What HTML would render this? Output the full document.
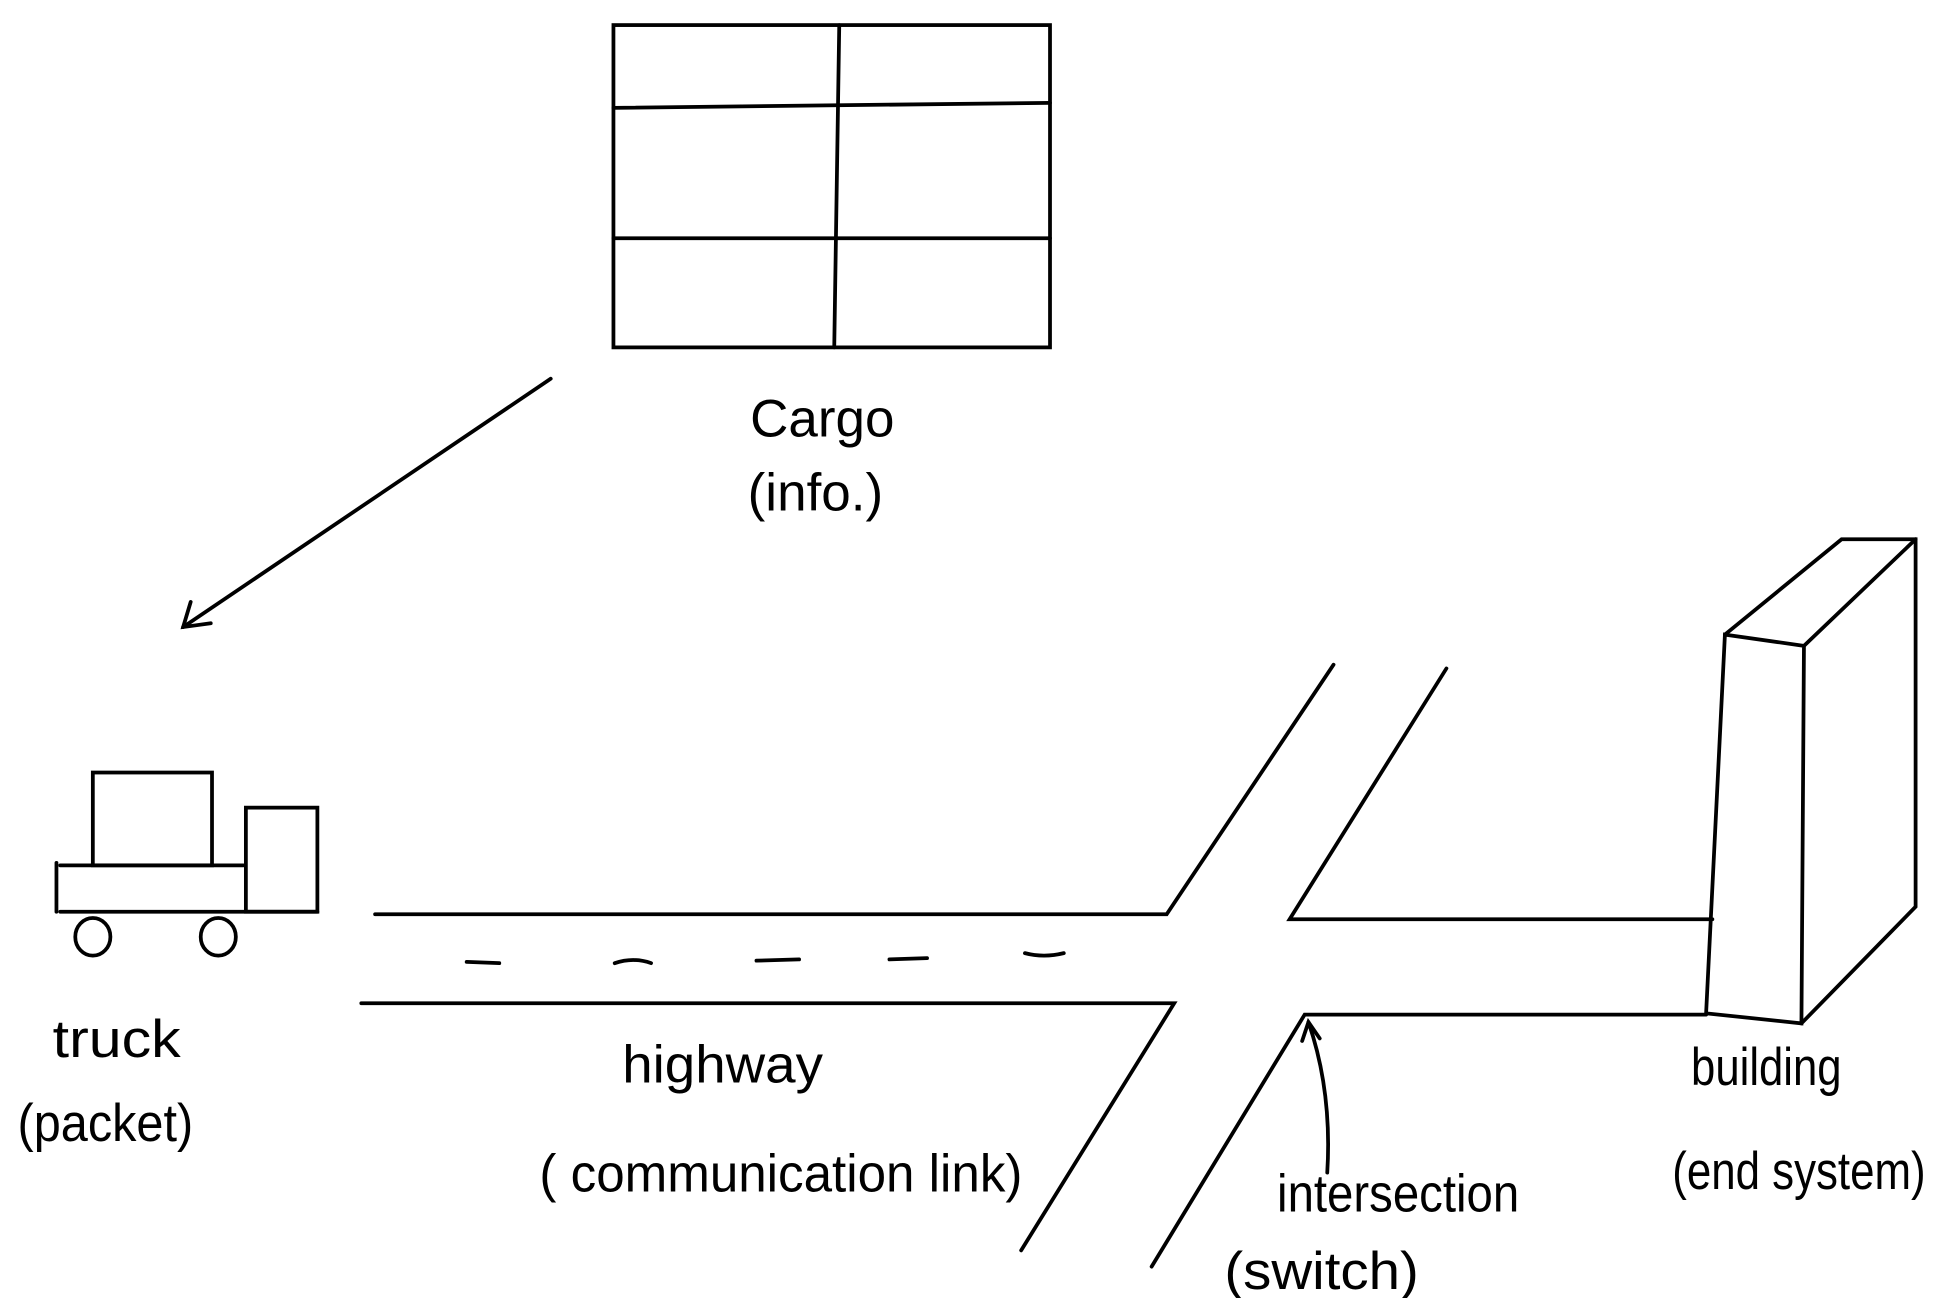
<!DOCTYPE html>
<html><head><meta charset="utf-8"><style>
html,body{margin:0;padding:0;background:#fff;}
svg{display:block;}
text{font-family:"Liberation Sans Narrow","Liberation Sans",sans-serif;fill:#000;}
</style></head><body>
<svg width="1957" height="1298" viewBox="0 0 1560 1035" preserveAspectRatio="none">
<g fill="none" stroke="#000" stroke-width="3" stroke-linecap="round">
 <g>
  <rect x="489" y="20" width="348" height="257"/>
  <line x1="669" y1="20" x2="665" y2="277"/>
  <line x1="489" y1="86" x2="837" y2="82"/>
  <line x1="489" y1="190" x2="837" y2="190"/>
 </g>
 <g>
  <line x1="439" y1="302" x2="146" y2="500"/>
  <polyline points="152,480 146,500 168,497"/>
 </g>
 <g>
  <rect x="74" y="616" width="95" height="74"/>
  <rect x="196" y="644" width="57" height="83"/>
  <line x1="48" y1="690" x2="194" y2="690"/>
  <line x1="48" y1="727" x2="253" y2="727"/>
  <line x1="45" y1="688" x2="45" y2="727"/>
  <ellipse cx="74" cy="747" rx="14" ry="15"/>
  <ellipse cx="174" cy="747" rx="14" ry="15"/>
 </g>
 <g>
  <polyline points="299,729 930,729 1063,530"/>
  <polyline points="288,800 936,800 814,997"/>
  <polyline points="1153,533 1028,733 1365,733"/>
  <polyline points="918,1010 1040,809 1360,809"/>
  <line x1="372" y1="767" x2="398" y2="768"/>
  <path d="M490 768 Q505 763 519 768"/>
  <line x1="603" y1="766" x2="637" y2="765"/>
  <line x1="709" y1="765" x2="739" y2="764"/>
  <path d="M817 760 Q832 764 848 760"/>
 </g>
 <g>
  <path d="M1058 935 Q1062 870 1043 815"/>
  <polyline points="1038,830 1043,815 1052,828"/>
 </g>
 <g>
  <polygon points="1375,506 1438,515 1436,816 1360,808"/>
  <polyline points="1375,506 1468,430 1527,430 1527,723 1436,816"/>
  <line x1="1438" y1="515" x2="1527" y2="430"/>
 </g>
</g>
<g font-size="42">
 <text x="598" y="348" textLength="115" lengthAdjust="spacingAndGlyphs">Cargo</text>
 <text x="596" y="407" textLength="108" lengthAdjust="spacingAndGlyphs">(info.)</text>
 <text x="42" y="843" textLength="102" lengthAdjust="spacingAndGlyphs">truck</text>
 <text x="14" y="910" textLength="140" lengthAdjust="spacingAndGlyphs">(packet)</text>
 <text x="496" y="863" textLength="160" lengthAdjust="spacingAndGlyphs">highway</text>
 <text x="430" y="950" textLength="385" lengthAdjust="spacingAndGlyphs">( communication link)</text>
 <text x="1018" y="966" textLength="193" lengthAdjust="spacingAndGlyphs">intersection</text>
 <text x="976" y="1028" textLength="155" lengthAdjust="spacingAndGlyphs">(switch)</text>
 <text x="1348" y="865" textLength="120" lengthAdjust="spacingAndGlyphs">building</text>
 <text x="1333" y="948" textLength="202" lengthAdjust="spacingAndGlyphs">(end system)</text>
</g>
</svg>
</body></html>
